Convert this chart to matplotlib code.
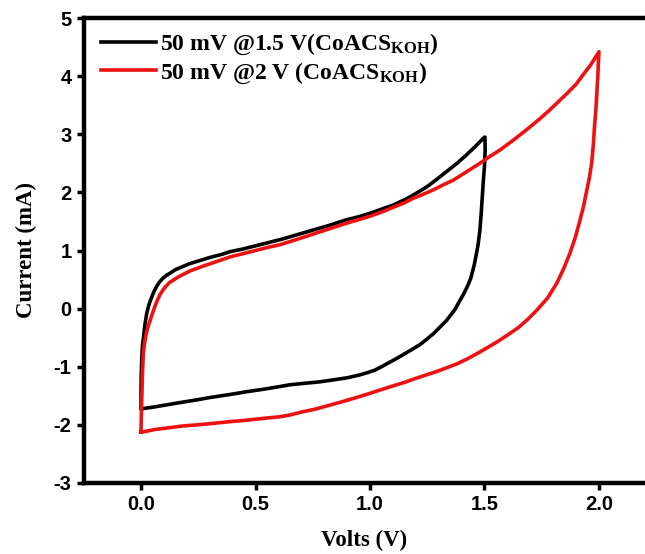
import matplotlib
matplotlib.use("Agg")
import matplotlib.pyplot as plt

plt.rcParams['mathtext.fontset'] = 'custom'
plt.rcParams['mathtext.rm'] = 'Liberation Serif:bold'
plt.rcParams['mathtext.bf'] = 'Liberation Serif:bold'
plt.rcParams['mathtext.it'] = 'Liberation Serif:bold'

# Black curve: 50 mV @1.5 V (forward then reverse sweep)
black_fwd_x = [0.0, 0.0, 0.001, 0.003, 0.006, 0.012, 0.018, 0.025, 0.034, 0.045, 0.056, 0.068, 0.081, 0.095, 0.11, 0.127, 0.15, 0.18, 0.21, 0.243, 0.3, 0.35, 0.389, 0.45, 0.5, 0.56, 0.62, 0.68, 0.75, 0.82, 0.898, 0.95, 1.0, 1.05, 1.1, 1.16, 1.2, 1.25, 1.29, 1.335, 1.38, 1.42, 1.46, 1.5]
black_fwd_y = [-1.72, -1.4, -1.15, -0.89, -0.65, -0.45, -0.25, -0.08, 0.06, 0.18, 0.29, 0.38, 0.46, 0.52, 0.57, 0.61, 0.67, 0.72, 0.77, 0.81, 0.88, 0.93, 0.98, 1.03, 1.08, 1.14, 1.2, 1.27, 1.35, 1.43, 1.53, 1.58, 1.64, 1.71, 1.78, 1.89, 1.98, 2.1, 2.22, 2.36, 2.5, 2.64, 2.79, 2.95]
black_rev_x = [1.502, 1.503, 1.5, 1.495, 1.49, 1.485, 1.48, 1.472, 1.465, 1.455, 1.44, 1.425, 1.41, 1.39, 1.37, 1.335, 1.31, 1.28, 1.25, 1.218, 1.18, 1.15, 1.12, 1.087, 1.05, 1.02, 0.99, 0.956, 0.9, 0.85, 0.78, 0.7, 0.65, 0.607, 0.53, 0.46, 0.4, 0.35, 0.3, 0.243, 0.18, 0.12, 0.06, 0.01]
black_rev_y = [2.95, 2.73, 2.45, 2.2, 1.9, 1.6, 1.35, 1.1, 0.95, 0.75, 0.52, 0.38, 0.26, 0.12, -0.02, -0.2, -0.3, -0.42, -0.52, -0.62, -0.71, -0.78, -0.85, -0.92, -1.0, -1.06, -1.1, -1.14, -1.19, -1.22, -1.26, -1.29, -1.31, -1.34, -1.39, -1.43, -1.47, -1.50, -1.53, -1.57, -1.61, -1.65, -1.69, -1.72]

# Red curve: 50 mV @2 V (forward then reverse sweep)
red_fwd_x = [0.0, 0.001, 0.003, 0.006, 0.01, 0.015, 0.022, 0.03, 0.04, 0.05, 0.06, 0.071, 0.083, 0.096, 0.11, 0.125, 0.141, 0.165, 0.19, 0.215, 0.243, 0.27, 0.3, 0.345, 0.389, 0.44, 0.5, 0.55, 0.607, 0.68, 0.75, 0.82, 0.898, 0.95, 1.0, 1.05, 1.1, 1.15, 1.19, 1.24, 1.28, 1.32, 1.364, 1.42, 1.48, 1.52, 1.568, 1.63, 1.70, 1.74, 1.78, 1.82, 1.86, 1.9, 1.93, 1.965, 2.0]
red_fwd_y = [-2.12, -1.9, -1.6, -1.15, -0.77, -0.6, -0.45, -0.32, -0.2, -0.08, 0.03, 0.14, 0.24, 0.32, 0.39, 0.45, 0.49, 0.55, 0.60, 0.65, 0.69, 0.73, 0.77, 0.83, 0.89, 0.94, 1.0, 1.05, 1.1, 1.19, 1.28, 1.37, 1.47, 1.53, 1.59, 1.66, 1.74, 1.82, 1.90, 1.98, 2.05, 2.13, 2.21, 2.35, 2.50, 2.61, 2.73, 2.91, 3.13, 3.26, 3.40, 3.55, 3.70, 3.86, 4.02, 4.2, 4.42]
red_rev_x = [2.0, 1.997, 1.995, 1.992, 1.99, 1.985, 1.98, 1.975, 1.968, 1.958, 1.945, 1.932, 1.917, 1.897, 1.873, 1.845, 1.815, 1.775, 1.728, 1.69, 1.65, 1.61, 1.568, 1.535, 1.5, 1.46, 1.422, 1.38, 1.34, 1.3, 1.262, 1.2, 1.15, 1.1, 1.044, 0.99, 0.94, 0.88, 0.825, 0.76, 0.7, 0.65, 0.607, 0.53, 0.46, 0.4, 0.35, 0.3, 0.243, 0.18, 0.12, 0.06, 0.01, 0.0]
red_rev_y = [4.42, 4.2, 4.0, 3.8, 3.65, 3.35, 3.1, 2.8, 2.5, 2.25, 2.0, 1.75, 1.52, 1.23, 0.95, 0.68, 0.43, 0.18, -0.03, -0.18, -0.32, -0.43, -0.54, -0.62, -0.7, -0.79, -0.87, -0.95, -1.01, -1.07, -1.12, -1.2, -1.27, -1.33, -1.40, -1.47, -1.53, -1.60, -1.66, -1.73, -1.78, -1.83, -1.86, -1.89, -1.92, -1.94, -1.96, -1.98, -2.0, -2.02, -2.05, -2.08, -2.12, -2.12]

labels = [r'50 mV @1.5 V(CoACS$_{\mathbf{KOH}}$)', r'50 mV @2 V (CoACS$_{\mathbf{KOH}}$)']
xticks = [0.0, 0.5, 1.0, 1.5, 2.0]
yticks = [-3, -2, -1, 0, 1, 2, 3, 4, 5]

fig = plt.figure(figsize=(6.45, 5.54), dpi=100)
ax = fig.add_axes([84/645, 1-483/554, 1-84/645, (483-18)/554])

ax.plot(black_fwd_x + black_rev_x, black_fwd_y + black_rev_y, color='black', lw=2.6,
        label=labels[0], solid_joinstyle='round')
ax.plot(red_fwd_x + red_rev_x, red_fwd_y + red_rev_y, color='#ee1111', lw=2.6,
        label=labels[1], solid_joinstyle='round')

ax.set_xlim(-0.249, 2.201)
ax.set_ylim(-3, 5)
ax.set_xticks(xticks)
ax.set_xticklabels([f'{t:.1f}' for t in xticks])
ax.set_yticks(yticks)
ax.set_yticklabels([str(t) for t in yticks])

for s in ['left', 'top', 'bottom']:
    ax.spines[s].set_linewidth(3.2)
ax.spines['right'].set_visible(False)
ax.tick_params(axis='both', direction='out', length=5, width=2.5, pad=4)
for lab in ax.get_xticklabels() + ax.get_yticklabels():
    lab.set_fontfamily('Liberation Sans')
    lab.set_fontweight('bold')
    lab.set_fontsize(14.5)

ax.set_xlabel('Volts (V)', fontfamily='Liberation Serif', fontweight='bold', fontsize=16.5, labelpad=11)
ax.set_ylabel('Current (mA)', fontfamily='Liberation Serif', fontweight='bold', fontsize=16.5, labelpad=12)

leg = ax.legend(loc='upper left', bbox_to_anchor=(0.005, 1.0), frameon=False,
                prop={'family': 'Liberation Serif', 'weight': 'bold', 'size': 17},
                handlelength=2.35, handletextpad=0.15, labelspacing=0.12,
                borderpad=0.3, borderaxespad=0.3)

fig.savefig('out.png', dpi=100)
